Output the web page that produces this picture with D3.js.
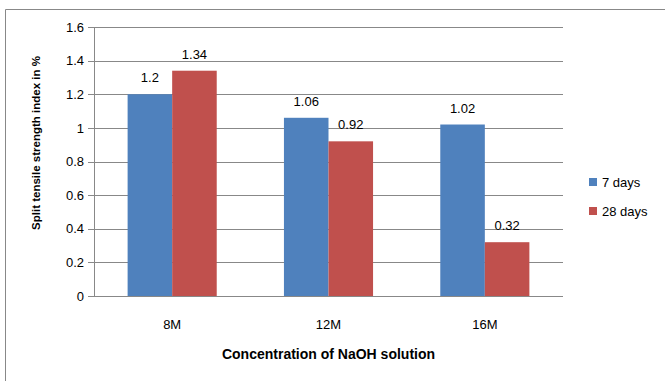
<!DOCTYPE html>
<html><head><meta charset="utf-8">
<script src="https://cdn.jsdelivr.net/npm/d3@7"></script>
<style>body{margin:0;background:#fff}svg{display:block}text{font-family:"Liberation Sans",Arial,sans-serif;fill:#000}</style>
</head><body><svg id="c" width="665" height="381"></svg>
<script>
const categories = ["8M", "12M", "16M"];
const seriesNames = ["7 days", "28 days"];
const values7 = [1.2, 1.06, 1.02];
const values28 = [1.34, 0.92, 0.32];
const yTicks = [0, 0.2, 0.4, 0.6, 0.8, 1, 1.2, 1.4, 1.6];
const colors = ["#4f81bd", "#c0504d"];

const svg = d3.select("#c");
// outer frame
svg.append("path").attr("d", "M5.5,381 V9.5 H665").attr("fill", "none").attr("stroke", "#888").attr("stroke-width", 1);

const x0 = 94, x1 = 563, yTop = 27, yBot = 296;
const x = d3.scaleBand().domain(categories).range([x0, x1]).paddingInner(0.43).paddingOuter(0.215);
const xs = d3.scaleBand().domain(seriesNames).range([0, x.bandwidth()]);
const y = d3.scaleLinear().domain([0, 1.6]).range([yBot, yTop]);

// gridlines
const yAxis = d3.axisLeft(y).tickValues(yTicks).tickSize(-(x1 - x0)).tickPadding(10)
  .tickFormat(d => d3.format("")(+d.toFixed(1)));
const gy = svg.append("g").attr("transform", `translate(${x0},0)`).call(yAxis);
gy.select(".domain").remove();
gy.selectAll(".tick line").attr("stroke", "#888").attr("x1", -6).attr("shape-rendering", "crispEdges");
gy.selectAll(".tick text").attr("font-size", 13).attr("font-family", "Liberation Sans, Arial, sans-serif").attr("fill", "#000");
svg.append("line").attr("x1", x0 + 0.5).attr("x2", x0 + 0.5).attr("y1", yTop).attr("y2", yBot)
  .attr("stroke", "#888");

const data = categories.map((c, i) => ({c, vals: [values7[i], values28[i]]}));
const groups = svg.append("g").selectAll("g").data(data).join("g")
  .attr("transform", d => `translate(${x(d.c)},0)`);
groups.selectAll("rect").data(d => d.vals.map((v, j) => ({v, s: seriesNames[j], j}))).join("rect")
  .attr("x", d => xs(d.s)).attr("width", xs.bandwidth())
  .attr("y", d => y(d.v)).attr("height", d => yBot - y(d.v))
  .attr("fill", d => colors[d.j]);
groups.selectAll("text").data(d => d.vals.map((v, j) => ({v, s: seriesNames[j]}))).join("text")
  .attr("x", d => xs(d.s) + xs.bandwidth() / 2).attr("y", d => y(d.v) - 12)
  .attr("text-anchor", "middle").attr("font-size", 13).text(d => d.v);

// x axis labels
const xAxis = d3.axisBottom(x).tickSize(0).tickPadding(24);
const gx = svg.append("g").attr("transform", `translate(0,${yBot})`).call(xAxis);
gx.select(".domain").remove();
gx.selectAll(".tick text").attr("font-size", 13).attr("font-family", "Liberation Sans, Arial, sans-serif").attr("fill", "#000");

// titles
svg.append("text").attr("x", (x0 + x1) / 2).attr("y", 359).attr("text-anchor", "middle")
  .attr("font-size", 14).attr("font-weight", "bold").text("Concentration of NaOH solution");
svg.append("text").attr("transform", "translate(40,143) rotate(-90)").attr("text-anchor", "middle")
  .attr("font-size", 11.5).attr("font-weight", "bold").text("Split tensile strength index in %");

// legend
const lg = svg.append("g").selectAll("g").data(seriesNames).join("g")
  .attr("transform", (d, i) => `translate(589,${178 + i * 29})`);
lg.append("rect").attr("width", 8).attr("height", 8).attr("fill", (d, i) => colors[i]);
lg.append("text").attr("x", 13).attr("y", 8.5).attr("font-size", 13).text(d => d);
</script></body></html>
